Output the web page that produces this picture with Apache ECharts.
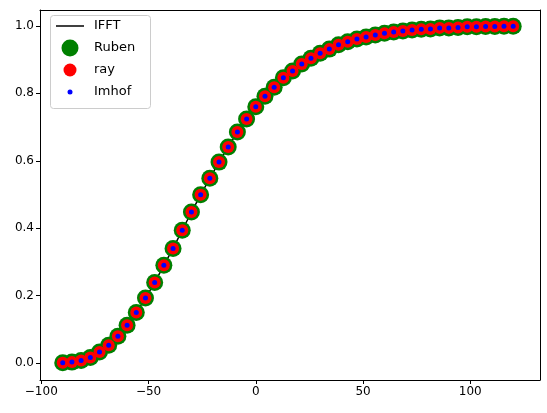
<!DOCTYPE html>
<html><head><meta charset="utf-8">
<script src="https://cdn.jsdelivr.net/npm/echarts@6/dist/echarts.min.js"></script>
<style>html,body{margin:0;padding:0;background:#fff}#c{width:547px;height:413px}</style>
</head><body><div id="c"></div>
<script>
const xStart = -90, xEnd = 120, nPoints = 50;
const yValues = [0.001,0.003,0.008,0.017,0.033,0.053,0.080,0.112,0.150,0.193,0.239,0.290,0.340,0.394,0.448,0.499,0.548,0.596,0.641,0.685,0.724,0.760,0.791,0.818,0.846,0.866,0.887,0.904,0.919,0.931,0.944,0.953,0.961,0.967,0.973,0.978,0.982,0.985,0.988,0.990,0.991,0.994,0.994,0.995,0.997,0.997,0.998,0.998,0.999,0.999];
const xTicks = [-100,-50,0,50,100];
const yTicks = [0,0.2,0.4,0.6,0.8,1.0];
const legendNames = ['IFFT','Ruben','ray','Imhof'];
const xValues = yValues.map((_, i) => xStart + i * (xEnd - xStart) / (nPoints - 1));
const pts = xValues.map((x, i) => [x, yValues[i]]);
const font = 'DejaVu Sans';
const XMIN=-100.6, XMAX=132.5, YMIN=-0.05, YMAX=1.047;
const axisCommon = {axisLine:{show:true,onZero:false,lineStyle:{color:'#000'}},splitLine:{show:false}};
const chart = echarts.init(document.getElementById('c'));
const lx=50, ly=15, row=22;
const legendGraphics = [
  {type:'rect',left:lx,top:ly,shape:{width:100,height:93,r:3},style:{fill:'#fff',stroke:'#ccc',lineWidth:1},z:100},
  {type:'line',shape:{x1:lx+6,y1:ly+11,x2:lx+34,y2:ly+11},style:{stroke:'#000',lineWidth:1.5},z:101},
  {type:'circle',shape:{cx:lx+20,cy:ly+11+row,r:8.5},style:{fill:'#008000'},z:101},
  {type:'circle',shape:{cx:lx+20,cy:ly+11+2*row,r:6.5},style:{fill:'#ff0000'},z:101},
  {type:'circle',shape:{cx:lx+20,cy:ly+11+3*row,r:2.5},style:{fill:'#0000ff'},z:101}
].concat(legendNames.map((n,i)=>({type:'text',x:lx+44,y:ly+11+i*row,
  style:{text:n,fill:'#000',font:'13px '+font,textVerticalAlign:'middle'},z:101})));
chart.setOption({
  animation:false,
  textStyle:{fontFamily:font},
  grid:{left:40,right:7,top:10,bottom:33},
  xAxis:[Object.assign({type:'value',min:XMIN,max:XMAX,position:'bottom',
    axisTick:{show:true,length:4,lineStyle:{color:'#000'},customValues:xTicks},
    axisLabel:{color:'#000',fontSize:12,margin:6,customValues:xTicks,formatter:v=>String(v).replace('-','\u2212')}},axisCommon),
    Object.assign({type:'value',min:XMIN,max:XMAX,position:'top',axisTick:{show:false},axisLabel:{show:false}},axisCommon)],
  yAxis:[Object.assign({type:'value',min:YMIN,max:YMAX,position:'left',
    axisTick:{show:true,length:4,lineStyle:{color:'#000'},customValues:yTicks},
    axisLabel:{color:'#000',fontSize:12,margin:6,customValues:yTicks,formatter:v=>v.toFixed(1)}},axisCommon),
    Object.assign({type:'value',min:YMIN,max:YMAX,position:'right',axisTick:{show:false},axisLabel:{show:false}},axisCommon)],
  graphic:legendGraphics,
  series:[
    {name:'IFFT',type:'line',data:pts,symbol:'none',lineStyle:{color:'#000',width:1.5},z:1},
    {name:'Ruben',type:'scatter',data:pts,symbolSize:17,itemStyle:{color:'#008000',opacity:1},z:2},
    {name:'ray',type:'scatter',data:pts,symbolSize:12,itemStyle:{color:'#ff0000',opacity:1},z:3},
    {name:'Imhof',type:'scatter',data:pts,symbolSize:5,itemStyle:{color:'#0000ff',opacity:1},z:4}
  ]
});
</script></body></html>
